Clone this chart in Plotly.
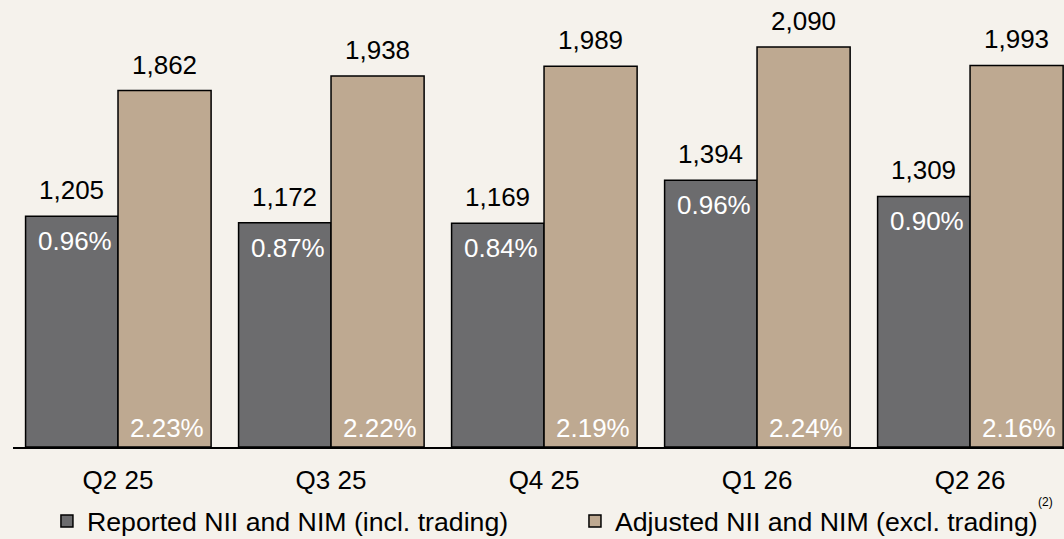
import plotly.graph_objects as go

quarters = ["Q2 25", "Q3 25", "Q4 25", "Q1 26", "Q2 26"]
reported_nii = [1205, 1172, 1169, 1394, 1309]
adjusted_nii = [1862, 1938, 1989, 2090, 1993]
reported_nim = ["0.96%", "0.87%", "0.84%", "0.96%", "0.90%"]
adjusted_nim = ["2.23%", "2.22%", "2.19%", "2.24%", "2.16%"]

BG = "#f5f2ec"
GRAY = "#6c6c6e"
TAN = "#bea991"
FONT = "Liberation Sans, Arial, sans-serif"
FS = 26

xs = list(range(len(quarters)))
W_G = 0.434
W_T = 0.437

fig = go.Figure()
fig.add_trace(go.Bar(
    x=xs, y=reported_nii, width=W_G, offset=-W_G,
    marker=dict(color=GRAY, line=dict(color="black", width=1.5)),
    name="Reported NII and NIM (incl. trading)", legend="legend",
))
fig.add_trace(go.Bar(
    x=xs, y=adjusted_nii, width=W_T, offset=0,
    marker=dict(color=TAN, line=dict(color="black", width=1.5)),
    name="Adjusted NII and NIM (excl. trading)", legend="legend2",
))

ann = []
for i in xs:
    ann.append(dict(x=i - W_G / 2, y=reported_nii[i], text=f"{reported_nii[i]:,}",
                    xref="x", yref="y", showarrow=False, yanchor="bottom", yshift=9,
                    font=dict(size=FS, color="black", family=FONT)))
    ann.append(dict(x=i + W_T / 2, y=adjusted_nii[i], text=f"{adjusted_nii[i]:,}",
                    xref="x", yref="y", showarrow=False, yanchor="bottom", yshift=9,
                    font=dict(size=FS, color="black", family=FONT)))
    ann.append(dict(x=i, y=reported_nii[i], text=reported_nim[i],
                    xref="x", yref="y", showarrow=False, xanchor="right", yanchor="middle",
                    xshift=-4, yshift=-25,
                    font=dict(size=FS, color="white", family=FONT)))
    ann.append(dict(x=i + W_T, y=0, text=adjusted_nim[i],
                    xref="x", yref="y", showarrow=False, xanchor="right", yanchor="middle",
                    xshift=-5, yshift=19,
                    font=dict(size=FS, color="white", family=FONT)))

ann.append(dict(x=0.982, y=-0.124, xref="paper", yref="paper", text="(2)",
                showarrow=False, xanchor="center", yanchor="middle",
                font=dict(size=12, color="black", family=FONT)))

legend_common = dict(orientation="h", xanchor="left", y=-0.166, yanchor="middle",
                     font=dict(size=26.7, color="black", family=FONT),
                     itemwidth=30, bgcolor="rgba(0,0,0,0)")

fig.update_layout(
    width=1064, height=539,
    margin=dict(l=13, r=0, t=0, b=92, autoexpand=False),
    paper_bgcolor=BG, plot_bgcolor=BG,
    barmode="overlay",
    showlegend=True,
    legend=dict(x=0.0323, **legend_common),
    legend2=dict(x=0.5347, **legend_common),
    annotations=ann,
    font=dict(family=FONT, color="black"),
)
fig.update_xaxes(range=[-0.493, 4.441], tickvals=xs, ticktext=quarters,
                 showline=True, linecolor="black", linewidth=2, showgrid=False,
                 zeroline=False, ticks="", ticklabelstandoff=9,
                 tickfont=dict(size=FS, color="black", family=FONT))
fig.update_yaxes(range=[0, 2335], visible=False, showgrid=False, zeroline=False)

fig.write_html("out.html", config={"displayModeBar": False},
               post_script="document.body.style.margin='0px';document.body.style.background='%s';" % BG)
